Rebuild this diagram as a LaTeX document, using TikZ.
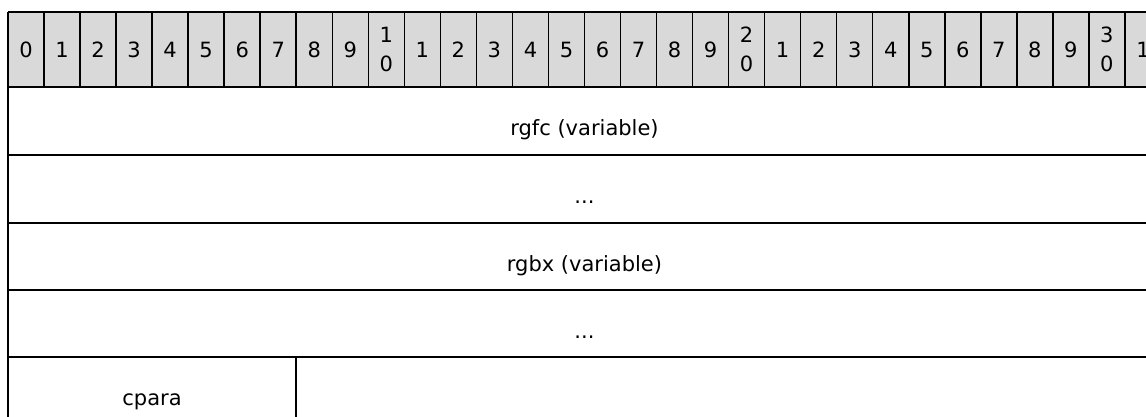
\documentclass[tikz,border=0pt]{standalone}
\usepackage{fontspec}
\setmainfont{DejaVu Sans}
\definecolor{hdrgray}{RGB}{217,217,217}
\begin{document}
\begin{tikzpicture}[x=1pt,y=-1pt,line width=1.5pt,
  lbl/.style={anchor=base,inner sep=0pt,font=\fontsize{21}{29}\selectfont},
  gridline/.style={draw=black,line width=1.5pt}]
\useasboundingbox (0,0) rectangle (1146,417);
\begin{scope}
\clip (0,0) rectangle (1146,417);
\fill[hdrgray] (8,12) rectangle (1161,87);
\foreach \i in {0,...,32}{
  \draw[gridline] ({8+\i*36.03},12) -- ({8+\i*36.03},87);
}
\foreach \yy in {12,87,155,223,290,357,425}{
  \draw[gridline] (8,\yy) -- (1161,\yy);
}
\draw[gridline] (8,12) -- (8,430);
\draw[gridline] (296,357) -- (296,430);
\foreach \i in {0,...,31}{
  \pgfmathtruncatemacro{\d}{mod(\i,10)}
  \pgfmathtruncatemacro{\t}{\i/10}
  \ifnum\d=0 \ifnum\i>0
    \node[lbl] (t\i) at ({8+(\i+0.5)*36.03},43) {\t};
    \node[lbl] (u\i) at ({8+(\i+0.5)*36.03},72) {0};
  \else
    \node[lbl] (u\i) at ({8+(\i+0.5)*36.03},58) {\d};
  \fi\else
    \node[lbl] (u\i) at ({8+(\i+0.5)*36.03},58) {\d};
  \fi
}
\node[lbl] (rgfc) at (584.5,136) {rgfc (variable)};
\node[lbl] (dots1) at (584.5,204) {...};
\node[lbl] (rgbx) at (584.5,271) {rgbx (variable)};
\node[lbl] (dots2) at (584.5,338) {...};
\node[lbl] (cpara) at (152,405) {cpara};
\end{scope}
\end{tikzpicture}
\end{document}
